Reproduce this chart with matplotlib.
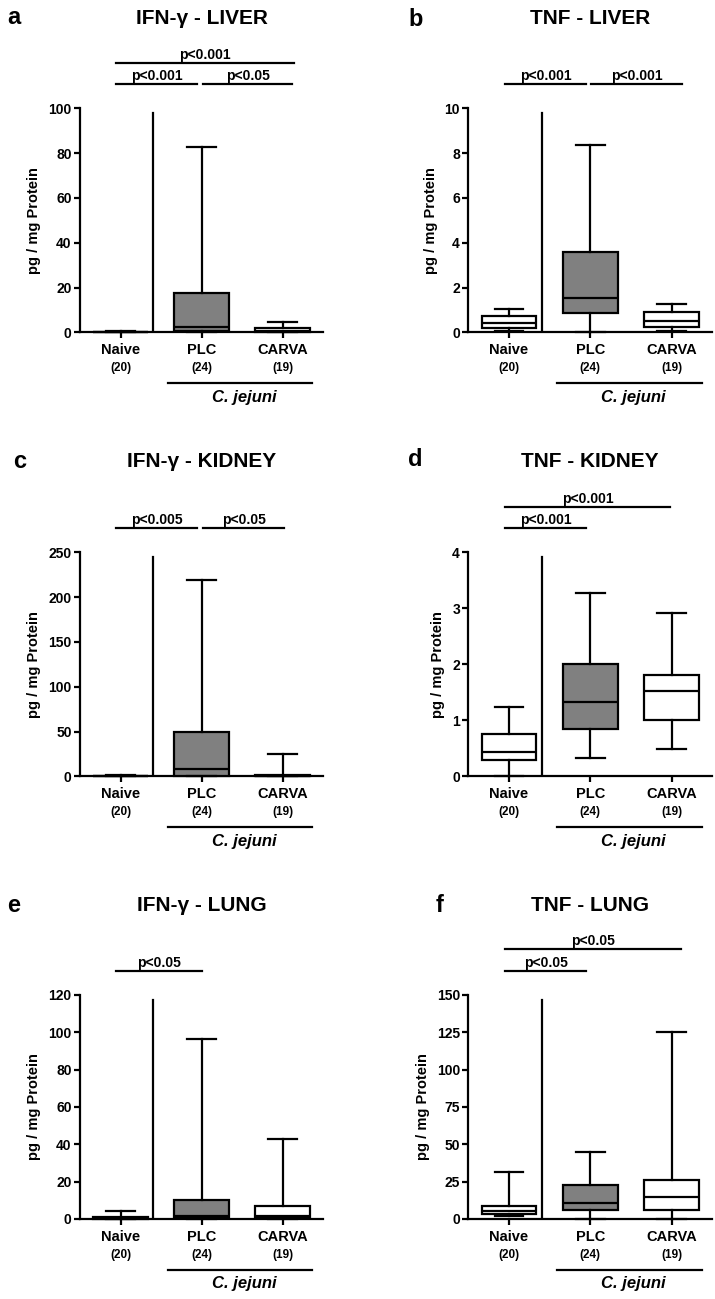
import matplotlib.pyplot as plt
import matplotlib.transforms as mtransforms

plt.rcParams['font.family'] = ['Liberation Sans', 'DejaVu Sans']
plt.rcParams['font.weight'] = 'bold'

groups = ['Naive', 'PLC', 'CARVA']
counts = ['(20)', '(24)', '(19)']
box_colors = ['white', '#808080', 'white']

titles = ['IFN-γ - LIVER', 'TNF - LIVER', 'IFN-γ - KIDNEY',
          'TNF - KIDNEY', 'IFN-γ - LUNG', 'TNF - LUNG']
letters = ['a', 'b', 'c', 'd', 'e', 'f']
y_max = [100, 10, 250, 4, 120, 150]
y_step = [20, 2, 50, 1, 20, 25]

# whislo, q1, median, q3, whishi  for Naive, PLC, CARVA
ifn_liver = [[0, 0, 0.1, 0.3, 0.6], [0, 0.4, 2.5, 17.4, 82.9], [0, 0.1, 0.6, 2.0, 4.7]]
tnf_liver = [[0.06, 0.18, 0.43, 0.73, 1.03], [0.02, 0.85, 1.52, 3.57, 8.36], [0.06, 0.25, 0.52, 0.92, 1.26]]
ifn_kidney = [[0, 0, 0.3, 0.8, 2.0], [0, 0.5, 8.2, 49.0, 219.5], [0, 0, 0.5, 1.5, 25.3]]
tnf_kidney = [[0, 0.29, 0.43, 0.76, 1.24], [0.32, 0.85, 1.32, 2.0, 3.28], [0.49, 1.0, 1.52, 1.81, 2.91]]
ifn_lung = [[0, 0.2, 0.5, 1.2, 4.1], [0, 0.3, 1.8, 10.0, 96.6], [0, 0.3, 1.8, 6.8, 42.8]]
tnf_lung = [[1.8, 3.3, 5.1, 8.4, 31.2], [0, 6.2, 10.7, 22.5, 45.2], [0, 6.2, 14.5, 25.8, 125.5]]
panels = [ifn_liver, tnf_liver, ifn_kidney, tnf_kidney, ifn_lung, tnf_lung]

# significance bars: x start, x end, level, label
sig_bars = [
    [(-0.05, 0.95, 1, 'p<0.001'), (1.02, 2.12, 1, 'p<0.05'), (-0.05, 2.14, 2, 'p<0.001')],
    [(-0.05, 0.95, 1, 'p<0.001'), (1.01, 2.13, 1, 'p<0.001')],
    [(-0.05, 0.95, 1, 'p<0.005'), (1.02, 2.02, 1, 'p<0.05')],
    [(-0.05, 0.95, 1, 'p<0.001'), (-0.05, 1.98, 2, 'p<0.001')],
    [(-0.05, 1.01, 1, 'p<0.05')],
    [(-0.05, 0.95, 1, 'p<0.05'), (-0.05, 2.12, 2, 'p<0.05')],
]

W, H = 715, 1299
fig = plt.figure(figsize=(W / 100, H / 100), dpi=100)

ax_left = [80, 468.3]
ax_width = [243, 244]
row_top = [108.3, 552.3, 995]
ax_h = 224
letter_pos = [(7, 24), (408, 26), (13, 468), (408, 466), (7, 912), (436, 912)]
title_base = [24, 24, 467, 467, 911, 911]
lw = 1.6

for i, stats_vals in enumerate(panels):
    col, row = i % 2, i // 2
    x0 = ax_left[col] / W
    y0 = 1 - (row_top[row] + ax_h) / H
    ax = fig.add_axes([x0, y0, ax_width[col] / W, ax_h / H])

    stats = [dict(whislo=s[0], q1=s[1], med=s[2], q3=s[3], whishi=s[4], fliers=[])
             for s in stats_vals]
    bp = ax.bxp(stats, positions=[0, 1, 2], widths=0.67, capwidths=0.35,
                patch_artist=True, showfliers=False,
                boxprops=dict(linewidth=lw, edgecolor='black'),
                medianprops=dict(color='black', linewidth=lw),
                whiskerprops=dict(color='black', linewidth=lw),
                capprops=dict(color='black', linewidth=lw))
    for patch, c in zip(bp['boxes'], box_colors):
        patch.set_facecolor(c)
    for key in ['boxes', 'medians', 'whiskers', 'caps']:
        for art in bp[key]:
            art.set_clip_on(False)
            art.set_zorder(3)

    ax.set_xlim(-0.5, 2.5)
    ax.set_ylim(0, y_max[i])
    ax.set_yticks(range(0, y_max[i] + 1, y_step[i]))
    ax.set_xticks([0, 1, 2])
    ax.set_xticklabels([])
    ax.tick_params(axis='both', direction='out', length=4, width=lw, labelsize=10, pad=2)
    for lab in ax.get_yticklabels():
        lab.set_fontweight('bold')
    for side in ['top', 'right']:
        ax.spines[side].set_visible(False)
    for side in ['left', 'bottom']:
        ax.spines[side].set_linewidth(lw)
    ax.set_ylabel('pg / mg Protein', fontsize=10.5, fontweight='bold', labelpad=5)

    # separator between naive and infected groups
    ax.axvline(0.4, ymin=0, ymax=0.978, color='black', linewidth=lw)

    trans = mtransforms.blended_transform_factory(ax.transData, ax.transAxes)
    for k in range(3):
        ax.text(k, -0.08, groups[k], transform=trans, ha='center', va='center',
                fontsize=10.5, fontweight='bold')
        ax.text(k, -0.161, counts[k], transform=trans, ha='center', va='center',
                fontsize=8.5, fontweight='bold')
    ax.plot([0.59, 2.37], [-0.228, -0.228], transform=trans, color='black',
            linewidth=lw, clip_on=False)
    ax.text(1.53, -0.29, 'C. jejuni', transform=trans, ha='center', va='center',
            fontsize=12, fontweight='bold', fontstyle='italic')

    for xa, xb, level, txt in sig_bars[i]:
        yb = 1.107 if level == 1 else 1.204
        ax.plot([xa, xb], [yb, yb], transform=trans, color='black',
                linewidth=lw, clip_on=False)
        ax.text((xa + xb) / 2, yb + 0.018, txt, transform=trans, ha='center',
                va='baseline', fontsize=10, fontweight='bold')

    cx = (ax_left[col] + ax_width[col] / 2) / W
    fig.text(cx, 1 - title_base[i] / H, titles[i], ha='center', va='baseline',
             fontsize=15, fontweight='bold')
    lx, ly = letter_pos[i]
    fig.text(lx / W, 1 - ly / H, letters[i], ha='left', va='baseline',
             fontsize=17, fontweight='bold')

fig.savefig('out.png', dpi=100)
